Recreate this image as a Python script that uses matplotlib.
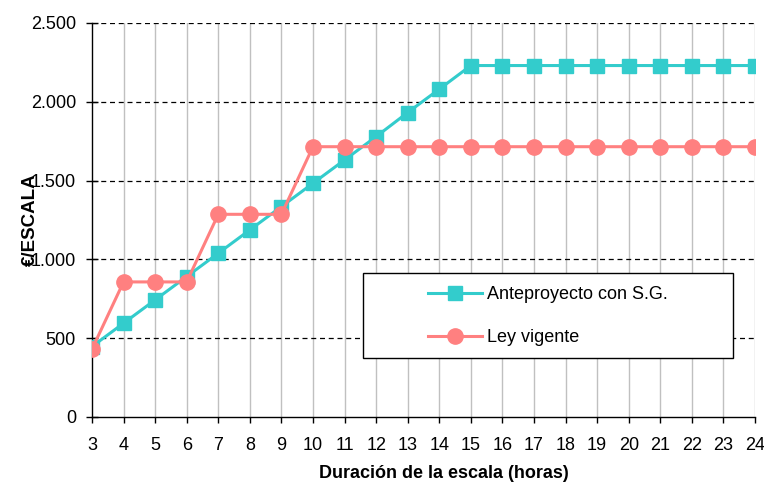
import matplotlib
matplotlib.use('Agg')
import matplotlib.pyplot as plt
from matplotlib.patches import Rectangle
from matplotlib.ticker import FuncFormatter, MultipleLocator

plt.rcParams['font.family'] = ['Liberation Sans', 'DejaVu Sans']

horas = list(range(3, 25))
anteproyecto = [447, 595, 743, 891, 1039, 1187, 1335, 1483, 1631, 1779, 1932, 2080,
                2230, 2230, 2230, 2230, 2230, 2230, 2230, 2230, 2230, 2230]
ley_vigente = [430, 857, 857, 857, 1286, 1286, 1286, 1715, 1715, 1715, 1715, 1715,
               1715, 1715, 1715, 1715, 1715, 1715, 1715, 1715, 1715, 1715]

TEAL = '#33CCCC'
SALMON = '#FF8080'

fig = plt.figure(figsize=(7.64, 4.82), dpi=100)
ax = fig.add_axes([0.1204, 0.1349, 0.8678, 0.8174])

ax.plot(horas, anteproyecto, color=TEAL, lw=2.2, marker='s', ms=10.5,
        label='Anteproyecto con S.G.', zorder=3)
ax.plot(horas, ley_vigente, color=SALMON, lw=2.2, marker='o', ms=11,
        label='Ley vigente', zorder=4)

ax.set_xlim(3, 24)
ax.set_ylim(0, 2500)
ax.set_xticks(horas)
ax.yaxis.set_major_locator(MultipleLocator(500))
ax.yaxis.set_major_formatter(FuncFormatter(lambda v, p: f'{int(v):,}'.replace(',', '.')))

# vertical gray grid, dashed black horizontal grid
for x in horas[1:]:
    ax.axvline(x, color='#c0c0c0', lw=1, zorder=1)
for y in range(500, 2501, 500):
    ax.axhline(y, color='black', lw=0.9, ls=(0, (4, 3)), zorder=1)

for s in ['top', 'right']:
    ax.spines[s].set_visible(False)
for s in ['left', 'bottom']:
    ax.spines[s].set_linewidth(1)
ax.tick_params(axis='both', labelsize=13, width=1, color='black')
ax.tick_params(axis='x', length=4.5, pad=10)
ax.tick_params(axis='y', direction='inout', length=9, pad=7)

ax.set_xlabel('Duración de la escala (horas)', fontsize=13, fontweight='bold')
ax.xaxis.set_label_coords(0.531, -0.123)
ax.set_ylabel('€/ESCALA', fontsize=13.5, fontweight='bold')
ax.yaxis.set_label_coords(-0.080, 0.50)

# legend box drawn by hand, entries placed inside it
ax.add_patch(Rectangle((0.409, 0.150), 0.558, 0.215, transform=ax.transAxes,
                       facecolor='white', edgecolor='black', lw=1, zorder=5))
leg = ax.legend(loc='center left', bbox_to_anchor=(0.507, 0.256), frameon=False,
                fontsize=13, handlelength=3.0, handletextpad=0.25, labelspacing=1.43,
                borderaxespad=0, borderpad=0)
leg.set_zorder(6)

fig.savefig('out.png', dpi=100)
